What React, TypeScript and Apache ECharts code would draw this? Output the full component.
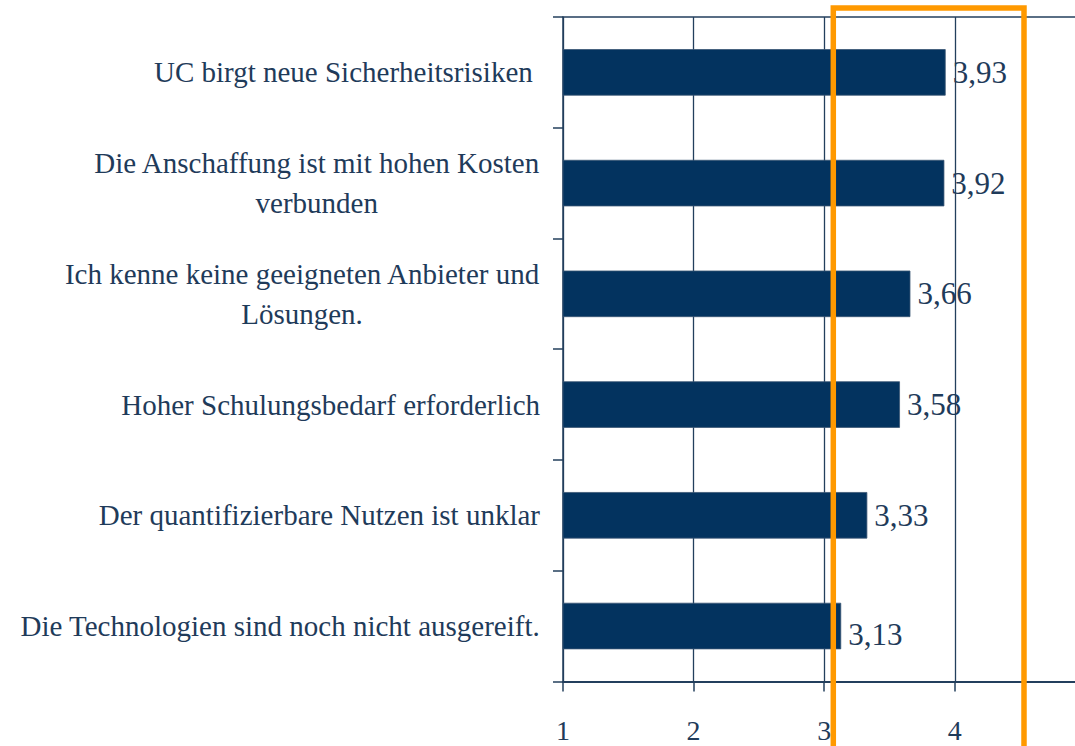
import React, { useEffect, useRef } from 'react';
import * as echarts from 'echarts';

const categories: string[] = [
  'UC birgt neue Sicherheitsrisiken ',
  'Die Anschaffung ist mit hohen Kosten\nverbunden',
  'Ich kenne keine geeigneten Anbieter und\nLösungen.',
  'Hoher Schulungsbedarf erforderlich',
  'Der quantifizierbare Nutzen ist unklar',
  'Die Technologien sind noch nicht ausgereift.',
];
const values: number[] = [3.93, 3.92, 3.66, 3.58, 3.33, 3.13];
const xMin = 1;
const xMax = 5;
const xInterval = 1;

const FONT = 'Liberation Serif, Times New Roman, serif';
const TEXT = '#1f3b5a';
const LINE = '#233f5d';
const BAR = '#03335f';

export default function App() {
  const ref = useRef<HTMLDivElement>(null);
  useEffect(() => {
    if (!ref.current) return;
    const chart = echarts.init(ref.current, null, { renderer: 'svg' });
    const data = values.map((v, i) =>
      i === values.length - 1 ? { value: v, label: { offset: [0, 8] } } : v
    );
    chart.setOption({
      animation: false,
      backgroundColor: '#ffffff',
      grid: {
        left: 563,
        top: 17,
        bottom: 64.6,
        right: 1100 - 1085.4,
        containLabel: false,
        outerBoundsMode: 'none',
      },
      xAxis: [
        {
          type: 'value',
          min: xMin,
          max: xMax,
          interval: xInterval,
          position: 'bottom',
          axisLine: { show: true, lineStyle: { color: LINE, width: 2 } },
          axisTick: { show: true, length: 10, lineStyle: { color: LINE, width: 1.5 } },
          axisLabel: {
            show: true,
            margin: 35,
            showMaxLabel: false,
            fontFamily: FONT,
            fontSize: 28,
            lineHeight: 28,
            color: TEXT,
          },
          splitLine: { show: true, lineStyle: { color: LINE, width: 1.3 } },
        },
        {
          type: 'value',
          min: xMin,
          max: xMax,
          interval: xInterval,
          position: 'top',
          axisLine: { show: true, lineStyle: { color: LINE, width: 1.5 } },
          axisTick: { show: false },
          axisLabel: { show: false },
          splitLine: { show: false },
        },
      ],
      yAxis: {
        type: 'category',
        inverse: true,
        data: categories,
        axisLine: { show: true, lineStyle: { color: LINE, width: 1.5 } },
        axisTick: { show: true, length: 10, lineStyle: { color: LINE, width: 1.5 } },
        axisLabel: {
          interval: 0,
          margin: 23,
          align: 'right',
          formatter: (v: string) =>
            v
              .split('\n')
              .map((l) => '{c|' + l + '}')
              .join('\n'),
          rich: {
            c: {
              align: 'center',
              fontFamily: FONT,
              fontSize: 29,
              lineHeight: 40,
              color: TEXT,
            },
          },
        },
        splitLine: { show: false },
      },
      series: [
        {
          type: 'bar',
          xAxisIndex: 0,
          data,
          barWidth: '42%',
          itemStyle: { color: BAR, borderColor: '#3a5573', borderWidth: 0.8 },
          label: {
            show: true,
            position: 'right',
            distance: 7,
            fontFamily: FONT,
            fontSize: 31,
            color: TEXT,
            formatter: (p: any) => Number(p.value).toFixed(2).replace('.', ','),
          },
          z: 3,
        },
      ],
      graphic: [
        {
          type: 'rect',
          silent: true,
          z: 100,
          shape: { x: 833.3, y: 8, width: 190.7, height: 760 },
          style: { fill: 'none', stroke: '#ff9900', lineWidth: 5.5 },
        },
      ],
    });
    return () => chart.dispose();
  }, []);
  return (
    <div
      style={{
        position: 'fixed',
        left: 0,
        top: 0,
        width: 1075,
        height: 746,
        overflow: 'hidden',
        background: '#fff',
      }}
    >
      <div ref={ref} style={{ width: 1100, height: 746 }} />
    </div>
  );
}
